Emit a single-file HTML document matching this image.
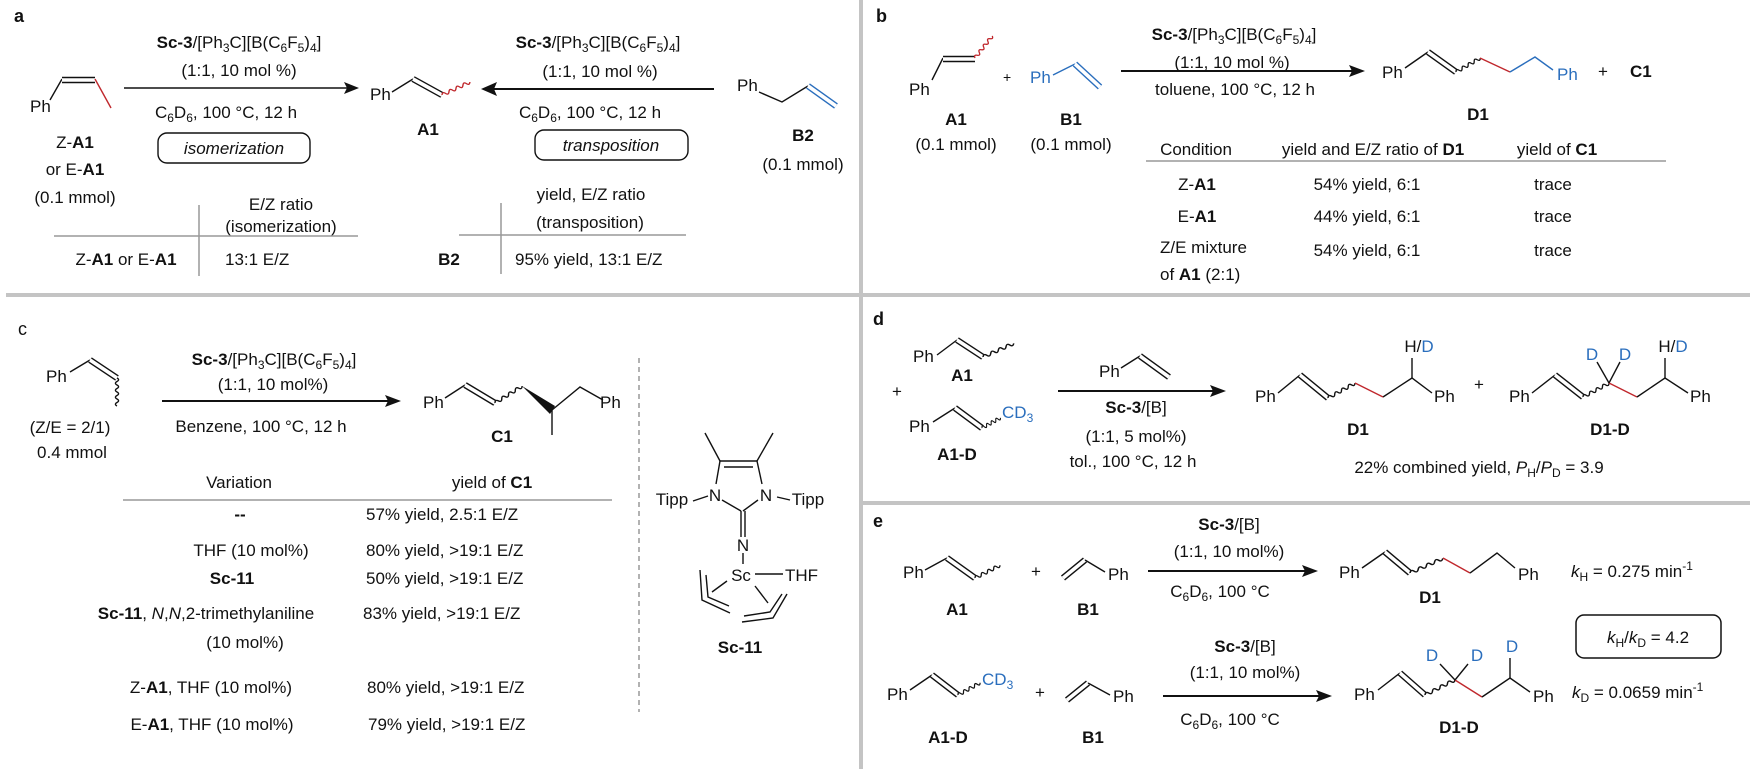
<!DOCTYPE html>
<html><head><meta charset="utf-8"><style>
html,body{margin:0;padding:0;background:#fff;}
svg{display:block;}
text{font-family:"Liberation Sans",Arial,sans-serif;font-size:17px;fill:#111;}
.b{font-weight:bold;}
.i{font-style:italic;}
.blue{fill:#2a6ebd;}
.s{font-size:12px;}
.k line,.k polyline{stroke:#111;stroke-width:1.4;fill:none;}
.w{stroke:#fff;stroke-width:3.6;}
</style></head><body>
<svg width="1750" height="777" viewBox="0 0 1750 777" xmlns="http://www.w3.org/2000/svg">
<defs>
<path id="wv" d="M0 0 q1.75 -3.2 3.5 0 t3.5 0 t3.5 0 t3.5 0 t3.5 0 t3.5 0 t3.5 0 t3.5 0" fill="none" stroke-width="1.3"/>
</defs>
<rect x="859" y="0" width="4" height="295" fill="#c4c4c4"/>
<rect x="6" y="293" width="1744" height="4" fill="#c4c4c4"/>
<rect x="859" y="295" width="4" height="474" fill="#c4c4c4"/>
<rect x="861" y="501" width="889" height="4" fill="#c4c4c4"/>

<!-- PANEL A -->
<text x="14" y="22" class="b" style="font-size:18px">a</text>
<line x1="50" y1="100" x2="62" y2="79" stroke="#111" stroke-width="1.4"/>
<line x1="62" y1="80" x2="95" y2="80" stroke="#111" stroke-width="6.4"/>
<line x1="62" y1="80" x2="95" y2="80" class="w"/>
<line x1="95" y1="79" x2="111" y2="108" stroke="#c0282d" stroke-width="1.4"/>
<text x="30" y="112">Ph</text>
<text x="75" y="148" text-anchor="middle">Z-<tspan class="b">A1</tspan></text>
<text x="75" y="175" text-anchor="middle">or E-<tspan class="b">A1</tspan></text>
<text x="75" y="203" text-anchor="middle">(0.1 mmol)</text>

<line x1="124" y1="88" x2="348" y2="88" stroke="#111" stroke-width="1.4"/>
<polygon points="359,88 344,82 347,88 344,94" fill="#111"/>
<text x="239" y="48" text-anchor="middle"><tspan class="b">Sc-3</tspan>/[Ph<tspan class="s" dy="4">3</tspan><tspan dy="-4">C][B(C</tspan><tspan class="s" dy="4">6</tspan><tspan dy="-4">F</tspan><tspan class="s" dy="4">5</tspan><tspan dy="-4">)</tspan><tspan class="s" dy="4">4</tspan><tspan dy="-4">]</tspan></text>
<text x="239" y="76" text-anchor="middle">(1:1, 10 mol %)</text>
<text x="226" y="118" text-anchor="middle">C<tspan class="s" dy="4">6</tspan><tspan dy="-4">D</tspan><tspan class="s" dy="4">6</tspan><tspan dy="-4">, 100 °C, 12 h</tspan></text>
<rect x="158" y="133" width="152" height="30" rx="9" fill="none" stroke="#111" stroke-width="1.4"/>
<text x="234" y="154" text-anchor="middle" class="i">isomerization</text>

<text x="370" y="100">Ph</text>
<line x1="392" y1="92" x2="413" y2="79" stroke="#111" stroke-width="1.4"/>
<line x1="413" y1="79" x2="442" y2="95" stroke="#111" stroke-width="6.4"/>
<line x1="413" y1="79" x2="442" y2="95" class="w"/>
<use href="#wv" stroke="#c0282d" transform="translate(442,95) rotate(-25) scale(1.1,1)"/>
<text x="428" y="135" text-anchor="middle" class="b">A1</text>

<line x1="490" y1="89" x2="714" y2="89" stroke="#111" stroke-width="2"/>
<polygon points="481,89 497,82 494,89 497,96" fill="#111"/>
<text x="598" y="48" text-anchor="middle"><tspan class="b">Sc-3</tspan>/[Ph<tspan class="s" dy="4">3</tspan><tspan dy="-4">C][B(C</tspan><tspan class="s" dy="4">6</tspan><tspan dy="-4">F</tspan><tspan class="s" dy="4">5</tspan><tspan dy="-4">)</tspan><tspan class="s" dy="4">4</tspan><tspan dy="-4">]</tspan></text>
<text x="600" y="77" text-anchor="middle">(1:1, 10 mol %)</text>
<text x="590" y="118" text-anchor="middle">C<tspan class="s" dy="4">6</tspan><tspan dy="-4">D</tspan><tspan class="s" dy="4">6</tspan><tspan dy="-4">, 100 °C, 12 h</tspan></text>
<rect x="535" y="130" width="153" height="30" rx="9" fill="none" stroke="#111" stroke-width="1.4"/>
<text x="611" y="151" text-anchor="middle" class="i">transposition</text>

<text x="737" y="91">Ph</text>
<polyline points="759,92 782,102 808,86" fill="none" stroke="#111" stroke-width="1.4"/>
<line x1="808" y1="86" x2="836" y2="106" stroke="#2a6ebd" stroke-width="6.4"/>
<line x1="808" y1="86" x2="836" y2="106" class="w"/>
<text x="803" y="141" text-anchor="middle" class="b">B2</text>
<text x="803" y="170" text-anchor="middle">(0.1 mmol)</text>

<text x="281" y="210" text-anchor="middle">E/Z ratio</text>
<text x="281" y="232" text-anchor="middle">(isomerization)</text>
<line x1="54" y1="236" x2="358" y2="236" stroke="#999" stroke-width="1.5"/>
<line x1="199" y1="205" x2="199" y2="276" stroke="#999" stroke-width="1.5"/>
<text x="126" y="265" text-anchor="middle">Z-<tspan class="b">A1</tspan> or E-<tspan class="b">A1</tspan></text>
<text x="225" y="265">13:1 E/Z</text>
<text x="591" y="200" text-anchor="middle">yield, E/Z ratio</text>
<text x="590" y="228" text-anchor="middle">(transposition)</text>
<line x1="459" y1="235" x2="686" y2="235" stroke="#999" stroke-width="1.5"/>
<line x1="501" y1="203" x2="501" y2="274" stroke="#999" stroke-width="1.5"/>
<text x="449" y="265" text-anchor="middle" class="b">B2</text>
<text x="515" y="265">95% yield, 13:1 E/Z</text>

<!-- PANEL B -->
<text x="876" y="22" class="b" style="font-size:18px">b</text>
<text x="909" y="95">Ph</text>
<line x1="932" y1="80" x2="943" y2="58" stroke="#111" stroke-width="1.4"/>
<line x1="943" y1="59" x2="975" y2="59" stroke="#111" stroke-width="6.4"/>
<line x1="943" y1="59" x2="975" y2="59" class="w"/>
<use href="#wv" stroke="#c0282d" transform="translate(975,58) rotate(-52)"/>
<text x="1003" y="82" style="font-size:14px">+</text>
<text x="1030" y="83" class="blue">Ph</text>
<line x1="1053" y1="75" x2="1075" y2="64" stroke="#2a6ebd" stroke-width="1.4"/>
<line x1="1075" y1="64" x2="1100" y2="87" stroke="#2a6ebd" stroke-width="6.4"/>
<line x1="1075" y1="64" x2="1100" y2="87" class="w"/>
<text x="956" y="125" text-anchor="middle" class="b">A1</text>
<text x="956" y="150" text-anchor="middle">(0.1 mmol)</text>
<text x="1071" y="125" text-anchor="middle" class="b">B1</text>
<text x="1071" y="150" text-anchor="middle">(0.1 mmol)</text>

<line x1="1121" y1="71" x2="1352" y2="71" stroke="#111" stroke-width="2"/>
<polygon points="1365,71 1349,65 1352,71 1349,77" fill="#111"/>
<text x="1234" y="40" text-anchor="middle"><tspan class="b">Sc-3</tspan>/[Ph<tspan class="s" dy="4">3</tspan><tspan dy="-4">C][B(C</tspan><tspan class="s" dy="4">6</tspan><tspan dy="-4">F</tspan><tspan class="s" dy="4">5</tspan><tspan dy="-4">)</tspan><tspan class="s" dy="4">4</tspan><tspan dy="-4">]</tspan></text>
<text x="1232" y="68" text-anchor="middle">(1:1, 10 mol %)</text>
<text x="1235" y="95" text-anchor="middle">toluene, 100 °C, 12 h</text>

<text x="1382" y="78">Ph</text>
<line x1="1405" y1="68" x2="1428" y2="52" stroke="#111" stroke-width="1.4"/>
<line x1="1428" y1="52" x2="1456" y2="72" stroke="#111" stroke-width="6.4"/>
<line x1="1428" y1="52" x2="1456" y2="72" class="w"/>
<use href="#wv" stroke="#111" transform="translate(1456,72) rotate(-30)"/>
<line x1="1480" y1="58" x2="1510" y2="72" stroke="#c0282d" stroke-width="1.4"/>
<polyline points="1510,72 1535,57 1553,70" fill="none" stroke="#2a6ebd" stroke-width="1.4"/>
<text x="1557" y="80" class="blue">Ph</text>
<text x="1598" y="77">+</text>
<text x="1630" y="77" class="b">C1</text>
<text x="1478" y="120" text-anchor="middle" class="b">D1</text>

<text x="1196" y="155" text-anchor="middle">Condition</text>
<text x="1373" y="155" text-anchor="middle">yield and E/Z ratio of <tspan class="b">D1</tspan></text>
<text x="1557" y="155" text-anchor="middle">yield of <tspan class="b">C1</tspan></text>
<line x1="1146" y1="161" x2="1666" y2="161" stroke="#999" stroke-width="1.5"/>
<text x="1197" y="190" text-anchor="middle">Z-<tspan class="b">A1</tspan></text>
<text x="1367" y="190" text-anchor="middle">54% yield, 6:1</text>
<text x="1553" y="190" text-anchor="middle">trace</text>
<text x="1197" y="222" text-anchor="middle">E-<tspan class="b">A1</tspan></text>
<text x="1367" y="222" text-anchor="middle">44% yield, 6:1</text>
<text x="1553" y="222" text-anchor="middle">trace</text>
<text x="1160" y="253">Z/E mixture</text>
<text x="1160" y="280">of <tspan class="b">A1</tspan> (2:1)</text>
<text x="1367" y="256" text-anchor="middle">54% yield, 6:1</text>
<text x="1553" y="256" text-anchor="middle">trace</text>

<!-- PANEL C -->
<text x="18" y="335" style="font-size:18px">c</text>
<text x="46" y="382">Ph</text>
<line x1="70" y1="372" x2="90" y2="360" stroke="#111" stroke-width="1.4"/>
<line x1="90" y1="360" x2="117" y2="378" stroke="#111" stroke-width="6.4"/>
<line x1="90" y1="360" x2="117" y2="378" class="w"/>
<use href="#wv" stroke="#111" transform="translate(117,378) rotate(90)"/>
<text x="70" y="433" text-anchor="middle">(Z/E = 2/1)</text>
<text x="72" y="458" text-anchor="middle">0.4 mmol</text>

<line x1="162" y1="401" x2="388" y2="401" stroke="#111" stroke-width="2"/>
<polygon points="401,401 385,395 388,401 385,407" fill="#111"/>
<text x="274" y="365" text-anchor="middle"><tspan class="b">Sc-3</tspan>/[Ph<tspan class="s" dy="4">3</tspan><tspan dy="-4">C][B(C</tspan><tspan class="s" dy="4">6</tspan><tspan dy="-4">F</tspan><tspan class="s" dy="4">5</tspan><tspan dy="-4">)</tspan><tspan class="s" dy="4">4</tspan><tspan dy="-4">]</tspan></text>
<text x="273" y="390" text-anchor="middle">(1:1, 10 mol%)</text>
<text x="261" y="432" text-anchor="middle">Benzene, 100 °C, 12 h</text>

<text x="423" y="408">Ph</text>
<line x1="445" y1="398" x2="465" y2="385" stroke="#111" stroke-width="1.4"/>
<line x1="465" y1="385" x2="495" y2="403" stroke="#111" stroke-width="6.4"/>
<line x1="465" y1="385" x2="495" y2="403" class="w"/>
<use href="#wv" stroke="#111" transform="translate(495,403) rotate(-32) scale(1.14,1)"/>
<polygon points="522,386 550,414 555,406" fill="#111"/>
<polyline points="552,410 580,387 603,400" fill="none" stroke="#111" stroke-width="1.4"/>
<line x1="552" y1="410" x2="552" y2="435" stroke="#111" stroke-width="1.4"/>
<text x="600" y="408">Ph</text>
<text x="502" y="442" text-anchor="middle" class="b">C1</text>

<text x="239" y="488" text-anchor="middle">Variation</text>
<text x="492" y="488" text-anchor="middle">yield of <tspan class="b">C1</tspan></text>
<line x1="123" y1="500" x2="612" y2="500" stroke="#999" stroke-width="1.5"/>
<text x="240" y="520" text-anchor="middle" class="b">--</text>
<text x="366" y="520">57% yield, 2.5:1 E/Z</text>
<text x="251" y="556" text-anchor="middle">THF (10 mol%)</text>
<text x="366" y="556">80% yield, &gt;19:1 E/Z</text>
<text x="232" y="584" text-anchor="middle" class="b">Sc-11</text>
<text x="366" y="584">50% yield, &gt;19:1 E/Z</text>
<text x="206" y="619" text-anchor="middle"><tspan class="b">Sc-11</tspan>, <tspan class="i">N</tspan>,<tspan class="i">N</tspan>,2-trimethylaniline</text>
<text x="363" y="619">83% yield, &gt;19:1 E/Z</text>
<text x="245" y="648" text-anchor="middle">(10 mol%)</text>
<text x="211" y="693" text-anchor="middle">Z-<tspan class="b">A1</tspan>,  THF (10 mol%)</text>
<text x="367" y="693">80% yield, &gt;19:1 E/Z</text>
<text x="212" y="730" text-anchor="middle">E-<tspan class="b">A1</tspan>,  THF (10 mol%)</text>
<text x="368" y="730">79% yield, &gt;19:1 E/Z</text>

<line x1="639" y1="358" x2="639" y2="712" stroke="#888" stroke-width="1.3" stroke-dasharray="5,4"/>

<g class="k">
<line x1="705" y1="433" x2="720" y2="461"/>
<line x1="773" y1="433" x2="757" y2="461"/>
<line x1="720" y1="461" x2="757" y2="461"/>
<line x1="724" y1="467" x2="753" y2="467"/>
<line x1="720" y1="461" x2="716" y2="484"/>
<line x1="757" y1="461" x2="762" y2="484"/>
<line x1="722" y1="500" x2="741" y2="511"/>
<line x1="758" y1="500" x2="743" y2="511"/>
<line x1="741" y1="511" x2="741" y2="537"/>
<line x1="745" y1="511" x2="745" y2="537"/>
<line x1="743" y1="553" x2="743" y2="564"/>
<line x1="693" y1="501" x2="708" y2="496"/>
<line x1="777" y1="497" x2="790" y2="500"/>
<line x1="755" y1="574" x2="783" y2="574"/>
<polyline points="700,570 702,600 730,613"/>
<polyline points="706,575 708,597 729,606"/>
<line x1="727" y1="581" x2="712" y2="592"/>
<polyline points="742,622 773,618 787,594"/>
<polyline points="744,616 770,612 782,594"/>
<line x1="755" y1="586" x2="768" y2="603"/>
</g>
<text x="715" y="501" text-anchor="middle">N</text>
<text x="766" y="501" text-anchor="middle">N</text>
<text x="672" y="505" text-anchor="middle">Tipp</text>
<text x="808" y="505" text-anchor="middle">Tipp</text>
<text x="743" y="551" text-anchor="middle">N</text>
<text x="741" y="581" text-anchor="middle">Sc</text>
<text x="785" y="581">THF</text>
<text x="740" y="653" text-anchor="middle" class="b">Sc-11</text>

<!-- PANEL D -->
<text x="873" y="325" class="b" style="font-size:18px">d</text>
<text x="913" y="362">Ph</text>
<line x1="937" y1="355" x2="957" y2="340" stroke="#111" stroke-width="1.4"/>
<line x1="957" y1="340" x2="983" y2="357" stroke="#111" stroke-width="6.4"/>
<line x1="957" y1="340" x2="983" y2="357" class="w"/>
<use href="#wv" stroke="#111" transform="translate(983,357) rotate(-24) scale(1.2,1)"/>
<text x="962" y="381" text-anchor="middle" class="b">A1</text>
<text x="892" y="397">+</text>
<text x="909" y="432">Ph</text>
<line x1="933" y1="422" x2="955" y2="408" stroke="#111" stroke-width="1.4"/>
<line x1="955" y1="408" x2="982" y2="428" stroke="#111" stroke-width="6.4"/>
<line x1="955" y1="408" x2="982" y2="428" class="w"/>
<use href="#wv" stroke="#111" transform="translate(982,428) rotate(-29) scale(0.75,1)"/>
<text x="1002" y="418" class="blue">CD<tspan class="s" dy="4">3</tspan></text>
<text x="957" y="460" text-anchor="middle" class="b">A1-D</text>

<text x="1099" y="377">Ph</text>
<line x1="1121" y1="368" x2="1140" y2="356" stroke="#111" stroke-width="1.4"/>
<line x1="1140" y1="356" x2="1169" y2="377" stroke="#111" stroke-width="6.4"/>
<line x1="1140" y1="356" x2="1169" y2="377" class="w"/>
<line x1="1058" y1="391" x2="1213" y2="391" stroke="#111" stroke-width="2"/>
<polygon points="1226,391 1210,385 1213,391 1210,397" fill="#111"/>
<text x="1136" y="413" text-anchor="middle"><tspan class="b">Sc-3</tspan>/[B]</text>
<text x="1136" y="442" text-anchor="middle">(1:1, 5 mol%)</text>
<text x="1133" y="467" text-anchor="middle">tol., 100 °C, 12 h</text>

<text x="1255" y="402">Ph</text>
<line x1="1278" y1="393" x2="1300" y2="375" stroke="#111" stroke-width="1.4"/>
<line x1="1300" y1="375" x2="1328" y2="398" stroke="#111" stroke-width="6.4"/>
<line x1="1300" y1="375" x2="1328" y2="398" class="w"/>
<use href="#wv" stroke="#111" transform="translate(1328,398) rotate(-29) scale(1.1,1)"/>
<line x1="1355" y1="383" x2="1383" y2="397" stroke="#c0282d" stroke-width="1.4"/>
<polyline points="1383,397 1412,378 1432,393" fill="none" stroke="#111" stroke-width="1.4"/>
<line x1="1412" y1="378" x2="1412" y2="358" stroke="#111" stroke-width="1.4"/>
<text x="1434" y="402">Ph</text>
<text x="1419" y="352" text-anchor="middle">H/<tspan class="blue">D</tspan></text>
<text x="1358" y="435" text-anchor="middle" class="b">D1</text>
<text x="1474" y="390">+</text>

<text x="1509" y="402">Ph</text>
<line x1="1532" y1="393" x2="1555" y2="375" stroke="#111" stroke-width="1.4"/>
<line x1="1555" y1="375" x2="1583" y2="397" stroke="#111" stroke-width="6.4"/>
<line x1="1555" y1="375" x2="1583" y2="397" class="w"/>
<use href="#wv" stroke="#111" transform="translate(1583,397) rotate(-28) scale(1.05,1)"/>
<line x1="1609" y1="383" x2="1637" y2="397" stroke="#c0282d" stroke-width="1.4"/>
<polyline points="1637,397 1665,378 1688,393" fill="none" stroke="#111" stroke-width="1.4"/>
<line x1="1665" y1="378" x2="1665" y2="358" stroke="#111" stroke-width="1.4"/>
<line x1="1609" y1="383" x2="1597" y2="362" stroke="#111" stroke-width="1.4"/>
<line x1="1609" y1="383" x2="1620" y2="362" stroke="#111" stroke-width="1.4"/>
<text x="1592" y="360" text-anchor="middle" class="blue">D</text>
<text x="1625" y="360" text-anchor="middle" class="blue">D</text>
<text x="1673" y="352" text-anchor="middle">H/<tspan class="blue">D</tspan></text>
<text x="1690" y="402">Ph</text>
<text x="1610" y="435" text-anchor="middle" class="b">D1-D</text>
<text x="1479" y="473" text-anchor="middle">22% combined yield, <tspan class="i">P</tspan><tspan class="s" dy="4">H</tspan><tspan dy="-4">/</tspan><tspan class="i">P</tspan><tspan class="s" dy="4">D</tspan><tspan dy="-4"> = 3.9</tspan></text>

<!-- PANEL E -->
<text x="873" y="527" class="b" style="font-size:18px">e</text>
<text x="903" y="578">Ph</text>
<line x1="925" y1="570" x2="947" y2="558" stroke="#111" stroke-width="1.4"/>
<line x1="947" y1="558" x2="975" y2="578" stroke="#111" stroke-width="6.4"/>
<line x1="947" y1="558" x2="975" y2="578" class="w"/>
<use href="#wv" stroke="#111" transform="translate(975,578) rotate(-27)"/>
<text x="1031" y="577">+</text>
<line x1="1063" y1="578" x2="1085" y2="560" stroke="#111" stroke-width="6.4"/>
<line x1="1063" y1="578" x2="1085" y2="560" class="w"/>
<line x1="1085" y1="560" x2="1105" y2="572" stroke="#111" stroke-width="1.4"/>
<text x="1108" y="580">Ph</text>
<text x="957" y="615" text-anchor="middle" class="b">A1</text>
<text x="1088" y="615" text-anchor="middle" class="b">B1</text>
<line x1="1148" y1="571" x2="1305" y2="571" stroke="#111" stroke-width="2"/>
<polygon points="1318,571 1302,565 1305,571 1302,577" fill="#111"/>
<text x="1229" y="530" text-anchor="middle"><tspan class="b">Sc-3</tspan>/[B]</text>
<text x="1229" y="557" text-anchor="middle">(1:1, 10 mol%)</text>
<text x="1220" y="597" text-anchor="middle">C<tspan class="s" dy="4">6</tspan><tspan dy="-4">D</tspan><tspan class="s" dy="4">6</tspan><tspan dy="-4">, 100 °C</tspan></text>

<text x="1339" y="578">Ph</text>
<line x1="1362" y1="568" x2="1385" y2="552" stroke="#111" stroke-width="1.4"/>
<line x1="1385" y1="552" x2="1410" y2="573" stroke="#111" stroke-width="6.4"/>
<line x1="1385" y1="552" x2="1410" y2="573" class="w"/>
<use href="#wv" stroke="#111" transform="translate(1410,573) rotate(-24) scale(1.28,1)"/>
<line x1="1443" y1="558" x2="1470" y2="573" stroke="#c0282d" stroke-width="1.4"/>
<polyline points="1470,573 1497,553 1515,568" fill="none" stroke="#111" stroke-width="1.4"/>
<text x="1518" y="580">Ph</text>
<text x="1430" y="603" text-anchor="middle" class="b">D1</text>
<text x="1571" y="577"><tspan class="i">k</tspan><tspan class="s" dy="4">H</tspan><tspan dy="-4"> = 0.275 min</tspan><tspan class="s" dy="-7">-1</tspan></text>
<rect x="1576" y="615" width="145" height="43" rx="8" fill="none" stroke="#111" stroke-width="1.5"/>
<text x="1648" y="643" text-anchor="middle"><tspan class="i">k</tspan><tspan class="s" dy="4">H</tspan><tspan dy="-4">/</tspan><tspan class="i">k</tspan><tspan class="s" dy="4">D</tspan><tspan dy="-4"> = 4.2</tspan></text>

<text x="887" y="700">Ph</text>
<line x1="910" y1="690" x2="932" y2="675" stroke="#111" stroke-width="1.4"/>
<line x1="932" y1="675" x2="958" y2="695" stroke="#111" stroke-width="6.4"/>
<line x1="932" y1="675" x2="958" y2="695" class="w"/>
<use href="#wv" stroke="#111" transform="translate(958,695) rotate(-29) scale(0.9,1)"/>
<text x="982" y="685" class="blue">CD<tspan class="s" dy="4">3</tspan></text>
<text x="1035" y="698">+</text>
<line x1="1067" y1="700" x2="1088" y2="683" stroke="#111" stroke-width="6.4"/>
<line x1="1067" y1="700" x2="1088" y2="683" class="w"/>
<line x1="1088" y1="683" x2="1110" y2="695" stroke="#111" stroke-width="1.4"/>
<text x="1113" y="702">Ph</text>
<text x="948" y="743" text-anchor="middle" class="b">A1-D</text>
<text x="1093" y="743" text-anchor="middle" class="b">B1</text>
<line x1="1163" y1="696" x2="1319" y2="696" stroke="#111" stroke-width="2"/>
<polygon points="1332,696 1316,690 1319,696 1316,702" fill="#111"/>
<text x="1245" y="652" text-anchor="middle"><tspan class="b">Sc-3</tspan>/[B]</text>
<text x="1245" y="678" text-anchor="middle">(1:1, 10 mol%)</text>
<text x="1230" y="725" text-anchor="middle">C<tspan class="s" dy="4">6</tspan><tspan dy="-4">D</tspan><tspan class="s" dy="4">6</tspan><tspan dy="-4">, 100 °C</tspan></text>

<text x="1354" y="700">Ph</text>
<line x1="1378" y1="690" x2="1400" y2="673" stroke="#111" stroke-width="1.4"/>
<line x1="1400" y1="673" x2="1425" y2="695" stroke="#111" stroke-width="6.4"/>
<line x1="1400" y1="673" x2="1425" y2="695" class="w"/>
<use href="#wv" stroke="#111" transform="translate(1425,695) rotate(-27) scale(1.2,1)"/>
<line x1="1455" y1="680" x2="1482" y2="697" stroke="#c0282d" stroke-width="1.4"/>
<polyline points="1482,697 1510,678 1530,692" fill="none" stroke="#111" stroke-width="1.4"/>
<line x1="1455" y1="680" x2="1440" y2="664" stroke="#111" stroke-width="1.4"/>
<line x1="1455" y1="680" x2="1468" y2="664" stroke="#111" stroke-width="1.4"/>
<line x1="1510" y1="678" x2="1510" y2="658" stroke="#111" stroke-width="1.4"/>
<text x="1432" y="661" text-anchor="middle" class="blue">D</text>
<text x="1477" y="661" text-anchor="middle" class="blue">D</text>
<text x="1512" y="652" text-anchor="middle" class="blue">D</text>
<text x="1533" y="702">Ph</text>
<text x="1459" y="733" text-anchor="middle" class="b">D1-D</text>
<text x="1572" y="698"><tspan class="i">k</tspan><tspan class="s" dy="4">D</tspan><tspan dy="-4"> = 0.0659 min</tspan><tspan class="s" dy="-7">-1</tspan></text>
</svg>
</body></html>
